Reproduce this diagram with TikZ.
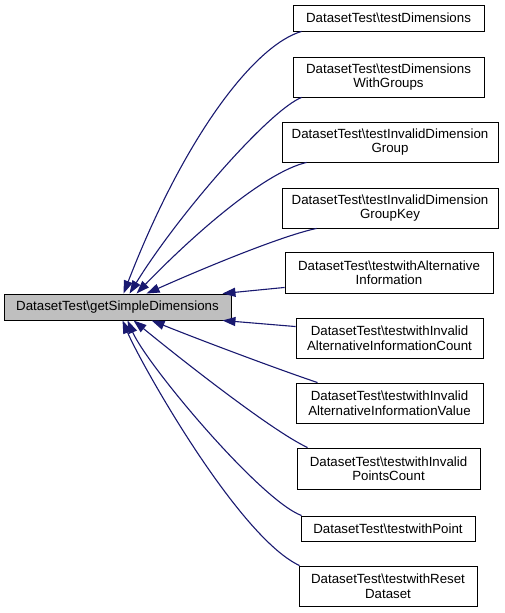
\documentclass[tikz,border=0pt]{standalone}
\usepackage{fontspec}
\setmainfont{Liberation Sans}
\usetikzlibrary{arrows.meta,calc}
\definecolor{edgeblue}{HTML}{191970}
\definecolor{maingray}{HTML}{BFBFBF}
\begin{document}
\begin{tikzpicture}[x=1pt,y=-1pt,
  box/.style={draw=black, line width=0.9pt, fill=white, inner sep=0pt, align=center,
    font=\fontsize{13.3}{14.5}\selectfont},
  edge/.style={draw=edgeblue, line width=1.1pt, {Triangle[length=13pt,width=9pt]}-}]
\useasboundingbox (0,0) rectangle (504,613);
\node[box, fill=maingray, minimum width=227pt, minimum height=26pt] (main) at (117.5,307) {DatasetTest\textbackslash getSimpleDimensions};
\node[box, minimum width=191pt, minimum height=26pt] (n1) at (388.5,18) {DatasetTest\textbackslash testDimensions};
\node[box, minimum width=191pt, minimum height=40pt] (n2) at (388.5,77) {DatasetTest\textbackslash testDimensions\\WithGroups};
\node[box, minimum width=216pt, minimum height=40pt] (n3) at (390,142) {DatasetTest\textbackslash testInvalidDimension\\Group};
\node[box, minimum width=216pt, minimum height=40pt] (n4) at (390,208) {DatasetTest\textbackslash testInvalidDimension\\GroupKey};
\node[box, minimum width=208pt, minimum height=41pt] (n5) at (389,272.5) {DatasetTest\textbackslash testwithAlternative\\Information};
\node[box, minimum width=187pt, minimum height=40pt] (n6) at (389.5,338) {DatasetTest\textbackslash testwithInvalid\\AlternativeInformationCount};
\node[box, minimum width=187pt, minimum height=40pt] (n7) at (389.5,403) {DatasetTest\textbackslash testwithInvalid\\AlternativeInformationValue};
\node[box, minimum width=183pt, minimum height=41pt] (n8) at (388.5,468.5) {DatasetTest\textbackslash testwithInvalid\\PointsCount};
\node[box, minimum width=174pt, minimum height=25pt] (n9) at (388,528.5) {DatasetTest\textbackslash testwithPoint};
\node[box, minimum width=178pt, minimum height=40pt] (n10) at (388,586) {DatasetTest\textbackslash testwithReset\\Dataset};

\draw[edge] ($(main.north west)+(120,0)$) .. controls (185,135) and (255,45) .. ($(n1.south west)+(9,0)$);
\draw[edge] ($(main.north west)+(126,0)$) .. controls (180,212) and (270,110) .. ($(n2.south west)+(9,0)$);
\draw[edge] ($(main.north west)+(133,0)$) .. controls (194,234) and (265,172) .. ($(n3.south west)+(25,0)$);
\draw[edge] ($(main.north west)+(143,0)$) .. controls (213,264) and (285,235) .. ($(n4.south west)+(35,0)$);
\draw[edge] ($(main.north east)+(-9,0)$) -- ($(n5.south west)+(0,-6)$);
\draw[edge] ($(main.south east)+(-9,0)$) -- ($(n6.north west)+(0,9)$);
\draw[edge] ($(main.south west)+(148,0)$) .. controls (200,340) and (280,370) .. ($(n7.north west)+(22,0)$);
\draw[edge] ($(main.south west)+(130,0)$) .. controls (172,352) and (270,430) .. ($(n8.north west)+(11,0)$);
\draw[edge] ($(main.south west)+(124,0)$) .. controls (147,365) and (260,500) .. ($(n9.north west)+(1,0)$);
\draw[edge] ($(main.south west)+(119,0)$) .. controls (140,362) and (238,537) .. ($(n10.north west)+(1,0)$);
\end{tikzpicture}
\end{document}
